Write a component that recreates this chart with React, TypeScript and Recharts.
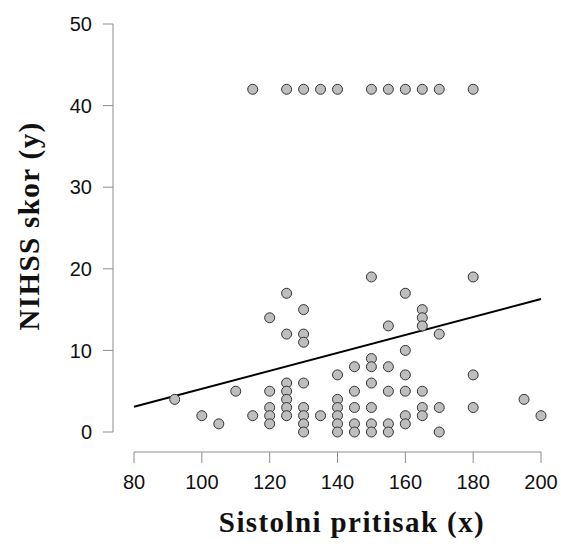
import React from "react";
import { ScatterChart, Scatter, XAxis, YAxis, ReferenceLine } from "recharts";

// sistolni pritisak (x) i NIHSS skor (y), jedan par po pacijentu
const sistolni = [
  115, 125, 130, 135, 140, 150, 155, 160, 165, 170, 180,
  92, 100, 105, 110, 115,
  120, 120, 120, 120, 120,
  125, 125, 125, 125, 125, 125, 125,
  130, 130, 130, 130, 130, 130, 130, 130,
  135,
  140, 140, 140, 140, 140, 140,
  145, 145, 145, 145, 145,
  150, 150, 150, 150, 150, 150, 150,
  155, 155, 155, 155, 155,
  160, 160, 160, 160, 160, 160,
  165, 165, 165, 165, 165, 165,
  170, 170, 170,
  180, 180, 180,
  195, 200,
];
const nihss = [
  42, 42, 42, 42, 42, 42, 42, 42, 42, 42, 42,
  4, 2, 1, 5, 2,
  14, 5, 3, 2, 1,
  17, 12, 6, 5, 4, 3, 2,
  15, 12, 11, 6, 3, 2, 1, 0,
  2,
  7, 4, 3, 2, 1, 0,
  8, 5, 3, 1, 0,
  19, 9, 8, 6, 3, 1, 0,
  13, 8, 5, 1, 0,
  17, 10, 7, 5, 2, 1,
  15, 14, 13, 5, 3, 2,
  12, 3, 0,
  19, 7, 3,
  4, 2,
];

const xTicks = [80, 100, 120, 140, 160, 180, 200];
const yTicks = [0, 10, 20, 30, 40, 50];
const fit = [
  { x: 80, y: 3.1 },
  { x: 200, y: 16.3 },
];

const points = sistolni.map((x, i) => ({ x, y: nihss[i] }));

// R-style detached axes: data area is offset from the axis lines
const xPad = 21;
const yPad = 20;
const plotW = 561 - 20 - 113 - xPad;
const plotH = 544 - 92 - 24 - yPad;
const xAxisAt = -yPad / (plotH / 50);
const yAxisAt = 80 - xPad / (plotW / 120);

const axisGray = "#8c8c8c";
const tickFont = { fill: "#111", fontSize: 20, fontFamily: "'Liberation Sans', Arial, sans-serif" };
const titleFont = {
  fontFamily: "'Liberation Serif', 'Times New Roman', serif",
  fontWeight: 700,
  fontSize: 29,
  letterSpacing: 1.4,
  fill: "#111",
};

const Dot = (props: any) => (
  <circle cx={props.cx} cy={props.cy} r={5} fill="#bebebe" stroke="#333" strokeWidth={1} />
);

export default function App() {
  return (
    <div style={{ position: "absolute", left: 0, top: 0, background: "#fff" }}>
      <ScatterChart width={561} height={544} margin={{ top: 24, right: 20, bottom: 0, left: 0 }}>
        <XAxis
          type="number"
          dataKey="x"
          domain={[80, 200]}
          ticks={xTicks}
          padding={{ left: xPad, right: 0 }}
          height={92}
          axisLine={false}
          tickLine={{ stroke: axisGray }}
          tickSize={11}
          tickMargin={12}
          tick={tickFont}
          label={() => (
            <text x={352} y={532} textAnchor="middle" {...titleFont}>
              Sistolni pritisak (x)
            </text>
          )}
        />
        <YAxis
          type="number"
          dataKey="y"
          domain={[0, 50]}
          ticks={yTicks}
          padding={{ top: 0, bottom: yPad }}
          width={113}
          axisLine={false}
          tickLine={{ stroke: axisGray }}
          tickSize={10}
          tickMargin={11}
          tick={tickFont}
          label={() => (
            <text x={39} y={226} textAnchor="middle" transform="rotate(-90, 39, 226)" {...titleFont}>
              NIHSS skor (y)
            </text>
          )}
        />
        <ReferenceLine
          segment={[{ x: 80, y: xAxisAt }, { x: 200, y: xAxisAt }]}
          stroke={axisGray}
          strokeWidth={1}
          ifOverflow="visible"
        />
        <ReferenceLine
          segment={[{ x: yAxisAt, y: 0 }, { x: yAxisAt, y: 50 }]}
          stroke={axisGray}
          strokeWidth={1}
          ifOverflow="visible"
        />
        <Scatter data={points} shape={Dot} isAnimationActive={false} />
        <ReferenceLine segment={fit} stroke="#000" strokeWidth={2} ifOverflow="visible" />
      </ScatterChart>
    </div>
  );
}
